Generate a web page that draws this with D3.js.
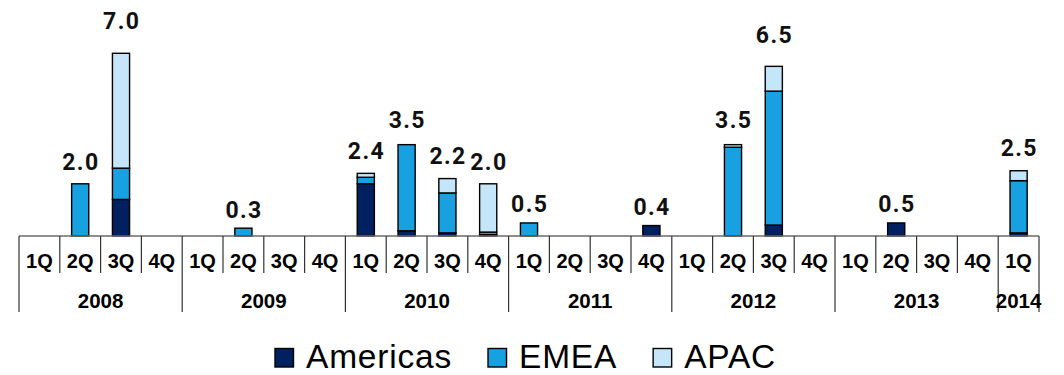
<!DOCTYPE html>
<html>
<head>
<meta charset="utf-8">
<script src="https://cdn.jsdelivr.net/npm/d3@7"></script>
<style>
  html, body { margin: 0; padding: 0; background: #fff; }
  svg { display: block; }
</style>
</head>
<body>
<svg id="chart" width="1064" height="375"></svg>
<script>
// Quarterly values by region, 2008 1Q through 2014 1Q
const years = ["2008", "2009", "2010", "2011", "2012", "2013", "2014"];
const quarters = ["1Q", "2Q", "3Q", "4Q"];
const quartersPerYear = [4, 4, 4, 4, 4, 4, 1];

const americas = [0, 0, 1.4, 0,   0, 0, 0, 0,   2.0, 0.2, 0.12, 0.05,   0, 0, 0, 0.4,   0, 0, 0.42, 0,   0, 0.5, 0, 0,   0.12];
const emea     = [0, 2.0, 1.2, 0, 0, 0.3, 0, 0, 0.25, 3.3, 1.53, 0.1,   0.5, 0, 0, 0,   0, 3.4, 5.13, 0,   0, 0, 0, 0,   2.0];
const apac     = [0, 0, 4.4, 0,   0, 0, 0, 0,   0.15, 0, 0.55, 1.85,   0, 0, 0, 0,     0, 0.1, 0.95, 0,   0, 0, 0, 0,   0.38];

const seriesNames = ["Americas", "EMEA", "APAC"];
const seriesColors = ["#002060", "#17A1E0", "#C4E6F8"];

// Build one row per quarter slot
const periods = [];
years.forEach((y, yi) => {
  for (let q = 0; q < quartersPerYear[yi]; q++) {
    periods.push({ year: y, quarter: quarters[q] });
  }
});
const rows = periods.map((p, i) => ({
  i, year: p.year, quarter: p.quarter,
  Americas: americas[i], EMEA: emea[i], APAC: apac[i]
}));

const svg = d3.select("#chart");
const left = 19, right = 1039, baseY = 236;

const x = d3.scaleBand()
  .domain(rows.map(r => r.i))
  .range([left, right])
  .paddingInner(0.58)
  .paddingOuter(0.29);
const step = x.step();
const slotEdge = i => left + i * step;

const y = d3.scaleLinear().domain([0, 7]).range([baseY, 53.3]);

const stack = d3.stack().keys(seriesNames);
const layers = stack(rows);

// Stacked bars
const g = svg.append("g");
layers.forEach((layer, li) => {
  g.selectAll(null)
    .data(layer.filter(d => d[1] - d[0] > 0))
    .join("rect")
    .attr("x", d => x(d.data.i))
    .attr("width", x.bandwidth())
    .attr("y", d => y(d[1]))
    .attr("height", d => y(d[0]) - y(d[1]))
    .attr("fill", seriesColors[li])
    .attr("stroke", "#000")
    .attr("stroke-width", 1.4);
});

// Total labels above each bar
rows.forEach(r => {
  const total = r.Americas + r.EMEA + r.APAC;
  if (total <= 0) return;
  svg.append("text")
    .attr("x", x(r.i) + x.bandwidth() / 2 + 0.7)
    .attr("y", y(total) - 10 - 2 * total)
    .attr("text-anchor", "middle")
    .attr("font-family", "Roboto, 'DejaVu Sans', sans-serif")
    .attr("font-weight", 700)
    .attr("font-size", 23)
    .attr("letter-spacing", 1.4)
    .attr("fill", "#111")
    .text(total.toFixed(1));
});

// Category axis: baseline, quarter dividers and year dividers
const axis = svg.append("g");
axis.append("line")
  .attr("x1", left).attr("x2", right)
  .attr("y1", baseY).attr("y2", baseY)
  .attr("stroke", "#6a6a6a").attr("stroke-width", 1.3);

const yearStarts = [];
let acc = 0;
quartersPerYear.forEach(n => { yearStarts.push(acc); acc += n; });
yearStarts.push(acc);

for (let i = 0; i <= rows.length; i++) {
  const isYear = yearStarts.includes(i);
  axis.append("line")
    .attr("x1", slotEdge(i)).attr("x2", slotEdge(i))
    .attr("y1", baseY).attr("y2", isYear ? 312 : 273)
    .attr("stroke", "#333").attr("stroke-width", 1.2);
}

axis.selectAll("text.q")
  .data(rows)
  .join("text")
  .attr("class", "q")
  .attr("x", d => slotEdge(d.i) + step / 2)
  .attr("y", 268)
  .attr("text-anchor", "middle")
  .attr("font-family", "'Liberation Sans', Arial, sans-serif")
  .attr("font-weight", 700)
  .attr("font-size", 20)
  .attr("fill", "#000")
  .text(d => d.quarter);

axis.selectAll("text.yr")
  .data(years)
  .join("text")
  .attr("class", "yr")
  .attr("x", (d, k) => (slotEdge(yearStarts[k]) + slotEdge(yearStarts[k + 1])) / 2)
  .attr("y", 308)
  .attr("text-anchor", "middle")
  .attr("font-family", "'Liberation Sans', Arial, sans-serif")
  .attr("font-weight", 700)
  .attr("font-size", 20.5)
  .attr("fill", "#000")
  .text(d => d);

// Legend
const legend = svg.append("g").attr("transform", "translate(275, 0)");
let lx = 0;
seriesNames.forEach((name, k) => {
  legend.append("rect")
    .attr("x", lx).attr("y", 348.5)
    .attr("width", 18.5).attr("height", 18.5)
    .attr("fill", seriesColors[k])
    .attr("stroke", "#000").attr("stroke-width", 1.4);
  const t = legend.append("text")
    .attr("x", lx + 31)
    .attr("y", 367.5)
    .attr("font-family", "'Liberation Sans', Arial, sans-serif")
    .attr("font-size", 33.5)
    .attr("letter-spacing", 0.8)
    .attr("fill", "#000")
    .text(name);
  lx += 31 + t.node().getComputedTextLength() + 36;
});
</script>
</body>
</html>
